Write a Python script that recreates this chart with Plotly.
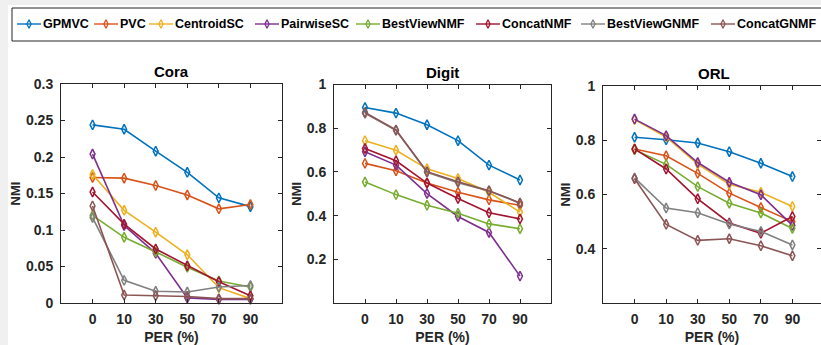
import plotly.graph_objects as go

W, H = 821, 345

PER = ["0", "10", "30", "50", "70", "90"]
METHODS = ["GPMVC", "PVC", "CentroidSC", "PairwiseSC", "BestViewNMF",
           "ConcatNMF", "BestViewGNMF", "ConcatGNMF"]
COLORS = ["#0072BD", "#D95319", "#EDB120", "#7E2F8E", "#77AC30",
          "#A2142F", "#808080", "#8C5555"]

cora_GPMVC = [0.244, 0.238, 0.208, 0.179, 0.144, 0.132]
cora_PVC = [0.172, 0.171, 0.161, 0.148, 0.129, 0.135]
cora_CentroidSC = [0.176, 0.127, 0.097, 0.066, 0.021, 0.006]
cora_PairwiseSC = [0.204, 0.106, 0.068, 0.007, 0.005, 0.005]
cora_BestViewNMF = [0.120, 0.090, 0.070, 0.049, 0.030, 0.022]
cora_ConcatNMF = [0.152, 0.108, 0.074, 0.051, 0.029, 0.010]
cora_BestViewGNMF = [0.117, 0.031, 0.016, 0.015, 0.022, 0.024]
cora_ConcatGNMF = [0.133, 0.011, 0.010, 0.009, 0.006, 0.006]

digit_GPMVC = [0.895, 0.869, 0.816, 0.743, 0.631, 0.563]
digit_PVC = [0.639, 0.605, 0.549, 0.507, 0.472, 0.447]
digit_CentroidSC = [0.743, 0.699, 0.614, 0.570, 0.507, 0.416]
digit_PairwiseSC = [0.692, 0.631, 0.501, 0.396, 0.323, 0.123]
digit_BestViewNMF = [0.554, 0.496, 0.447, 0.411, 0.362, 0.340]
digit_ConcatNMF = [0.707, 0.651, 0.549, 0.478, 0.413, 0.385]
digit_BestViewGNMF = [0.868, 0.790, 0.598, 0.551, 0.513, 0.457]
digit_ConcatGNMF = [0.872, 0.792, 0.601, 0.555, 0.514, 0.458]

orl_GPMVC = [0.811, 0.802, 0.790, 0.758, 0.715, 0.666]
orl_PVC = [0.768, 0.743, 0.678, 0.605, 0.552, 0.500]
orl_CentroidSC = [0.876, 0.812, 0.712, 0.638, 0.608, 0.556]
orl_PairwiseSC = [0.878, 0.817, 0.718, 0.645, 0.599, 0.486]
orl_BestViewNMF = [0.765, 0.711, 0.629, 0.568, 0.532, 0.475]
orl_ConcatNMF = [0.768, 0.694, 0.584, 0.495, 0.457, 0.519]
orl_BestViewGNMF = [0.661, 0.550, 0.533, 0.491, 0.464, 0.414]
orl_ConcatGNMF = [0.658, 0.490, 0.431, 0.437, 0.411, 0.374]

DATASETS = ["Cora", "Digit", "ORL"]
SERIES = {
    "Cora": [cora_GPMVC, cora_PVC, cora_CentroidSC, cora_PairwiseSC,
             cora_BestViewNMF, cora_ConcatNMF, cora_BestViewGNMF, cora_ConcatGNMF],
    "Digit": [digit_GPMVC, digit_PVC, digit_CentroidSC, digit_PairwiseSC,
              digit_BestViewNMF, digit_ConcatNMF, digit_BestViewGNMF, digit_ConcatGNMF],
    "ORL": [orl_GPMVC, orl_PVC, orl_CentroidSC, orl_PairwiseSC,
            orl_BestViewNMF, orl_ConcatNMF, orl_BestViewGNMF, orl_ConcatGNMF],
}
Y_TICKS = {
    "Cora": [0, 0.05, 0.1, 0.15, 0.2, 0.25, 0.3],
    "Digit": [0.2, 0.4, 0.6, 0.8, 1],
    "ORL": [0.4, 0.6, 0.8, 1],
}
Y_TICKTEXT = {
    "Cora": ["0", "0.05", "0.1", "0.15", "0.2", "0.25", "0.3"],
    "Digit": ["0.2", "0.4", "0.6", "0.8", "1"],
    "ORL": ["0.4", "0.6", "0.8", "1"],
}
Y_RANGE = {"Cora": [0, 0.3], "Digit": [0, 1], "ORL": [0.2, 1]}

# pixel boxes of the three axes: left, right, top, bottom
BOX = {"Cora": (61, 282, 84, 303), "Digit": (334, 551, 84.5, 303),
       "ORL": (603, 824, 86, 303)}

FONT = "Liberation Sans, Arial, Helvetica, sans-serif"
DARK = "#262626"

fig = go.Figure()
xpos = list(range(1, len(PER) + 1))

annotations = []
shapes = []
for i, ds in enumerate(DATASETS):
    ax = "" if i == 0 else str(i + 1)
    l, r, t, b = BOX[ds]
    full_w = r - l
    vis_r = min(r, W)
    xmax = 7 * (vis_r - l) / full_w
    for m, col, vals in zip(METHODS, COLORS, SERIES[ds]):
        fig.add_trace(go.Scatter(
            x=xpos, y=vals, name=m, mode="lines+markers",
            line=dict(color=col, width=1.6),
            marker=dict(symbol="diamond-tall-open", size=7, color=col,
                        line=dict(width=1.5, color=col)),
            xaxis="x" + ax, yaxis="y" + ax, showlegend=False, cliponaxis=False))
    common = dict(showline=True, linecolor=DARK, linewidth=1, mirror="allticks",
                  ticks="inside", ticklen=4, tickcolor=DARK, showgrid=False,
                  zeroline=False, automargin=False,
                  tickfont=dict(family=FONT, size=14, color=DARK, weight="bold"))
    fig.update_layout(**{
        "xaxis" + ax: dict(domain=[l / W, vis_r / W], range=[0, xmax],
                           tickvals=xpos, ticktext=PER,
                           anchor="y" + ax, ticklabelstandoff=3,
                           title=dict(text="PER (%)", standoff=10,
                                      font=dict(family=FONT, size=14, color=DARK, weight="bold")),
                           **common),
        "yaxis" + ax: dict(domain=[1 - b / H, 1 - t / H], range=Y_RANGE[ds],
                           tickvals=Y_TICKS[ds], ticktext=Y_TICKTEXT[ds],
                           anchor="x" + ax, ticklabelstandoff=4,
                           title=dict(text="NMI", standoff=2,
                                      font=dict(family=FONT, size=13, color=DARK, weight="bold")),
                           **common),
    })
    annotations.append(dict(
        text=ds, x=(l + r) / 2 / W, y=1 - (t - 12.5) / H, xref="paper", yref="paper",
        showarrow=False, xanchor="center", yanchor="middle",
        font=dict(family=FONT, size=15, color="#000000", weight="bold")))

# manual legend (horizontal row inside a framed box)
LEG_TEXT_X = [42, 119, 174, 280, 381, 501, 606, 736]
LEG_Y = 24
shapes.append(dict(type="rect", xref="paper", yref="paper", layer="below",
                   x0=8 / W, x1=1.02, y0=-0.02, y1=1 - 5 / H,
                   fillcolor="white", line=dict(width=0)))
shapes.append(dict(type="rect", xref="paper", yref="paper", layer="below",
                   x0=12 / W, x1=1.02, y0=1 - 41 / H, y1=1 - 8 / H,
                   fillcolor="white", line=dict(color=DARK, width=1)))
for m, col, tx in zip(METHODS, COLORS, LEG_TEXT_X):
    fig.add_trace(go.Scatter(
        x=[tx - 25, tx - 1], y=[LEG_Y, LEG_Y], mode="lines",
        line=dict(color=col, width=1.4), xaxis="x4", yaxis="y4",
        showlegend=False, hoverinfo="skip"))
    fig.add_trace(go.Scatter(
        x=[tx - 13], y=[LEG_Y], mode="markers",
        marker=dict(symbol="diamond-tall-open", size=6, color=col,
                    line=dict(width=1.3, color=col)),
        xaxis="x4", yaxis="y4", showlegend=False, hoverinfo="skip"))
    annotations.append(dict(
        text=m, x=(tx - 1) / W, y=1 - LEG_Y / H, xref="paper", yref="paper",
        showarrow=False, xanchor="left", yanchor="middle",
        font=dict(family=FONT, size=12.5, color="#000000", weight="bold")))

fig.update_layout(
    xaxis4=dict(domain=[0, 1], range=[0, W], visible=False, anchor="y4",
                automargin=False),
    yaxis4=dict(domain=[0, 1], range=[H, 0], visible=False, anchor="x4",
                automargin=False),
)

fig.update_layout(
    width=W, height=H, margin=dict(l=0, r=0, t=0, b=0, autoexpand=False),
    paper_bgcolor="#f0f0f0", plot_bgcolor="rgba(0,0,0,0)",
    annotations=annotations, shapes=shapes, showlegend=False,
    font=dict(family=FONT, color=DARK),
)

fig.write_html("out.html",
               config={"displayModeBar": False},
               post_script="document.body.style.margin='0px';"
                           "document.documentElement.style.overflow='hidden';")
